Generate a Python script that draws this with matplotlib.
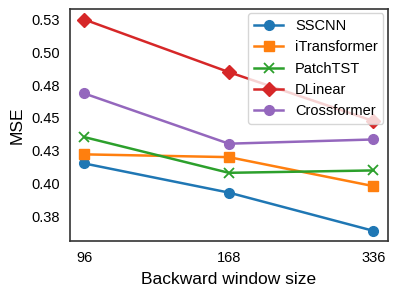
import matplotlib
matplotlib.use("Agg")
import matplotlib.pyplot as plt

# data
windows = ["96", "168", "336"]
sscnn = [0.4155, 0.3934, 0.3644]
itransformer = [0.4224, 0.4203, 0.3983]
patchtst = [0.4355, 0.4084, 0.4102]
dlinear = [0.5247, 0.4848, 0.4477]
crossformer = [0.4686, 0.4305, 0.4337]

y_ticks = [0.375, 0.400, 0.425, 0.450, 0.475, 0.500, 0.525]
y_tick_labels = ["0.38", "0.40", "0.43", "0.45", "0.48", "0.50", "0.53"]

series = [
    ("SSCNN", sscnn, "o"),
    ("iTransformer", itransformer, "s"),
    ("PatchTST", patchtst, "x"),
    ("DLinear", dlinear, "D"),
    ("Crossformer", crossformer, "o"),
]

plt.rcParams["font.family"] = ["Liberation Sans", "DejaVu Sans"]

fig, ax = plt.subplots(figsize=(3.99, 2.98), dpi=100)
x = range(len(windows))
for name, vals, mk in series:
    ax.plot(x, vals, marker=mk, markersize=7, linewidth=1.8,
            markeredgewidth=1.3 if mk == "x" else 1, label=name)

ax.set_xticks(list(x))
ax.set_xticklabels(windows)
ax.set_yticks(y_ticks)
ax.set_yticklabels(y_tick_labels)
ax.tick_params(labelsize=10.5, length=0, pad=7)
ax.set_xlabel("Backward window size", fontsize=12.5, labelpad=5)
ax.set_ylabel("MSE", fontsize=12.5, labelpad=5)
for s in ax.spines.values():
    s.set_color("#333333")
    s.set_linewidth(1.2)

leg = ax.legend(loc="upper right", fontsize=10.5, frameon=True,
                handlelength=2.0, borderpad=0.4, labelspacing=0.5,
                borderaxespad=0.3)
leg.get_frame().set_edgecolor("#cccccc")

fig.subplots_adjust(left=0.175, right=0.972, top=0.97, bottom=0.19)
fig.savefig("out.png")
